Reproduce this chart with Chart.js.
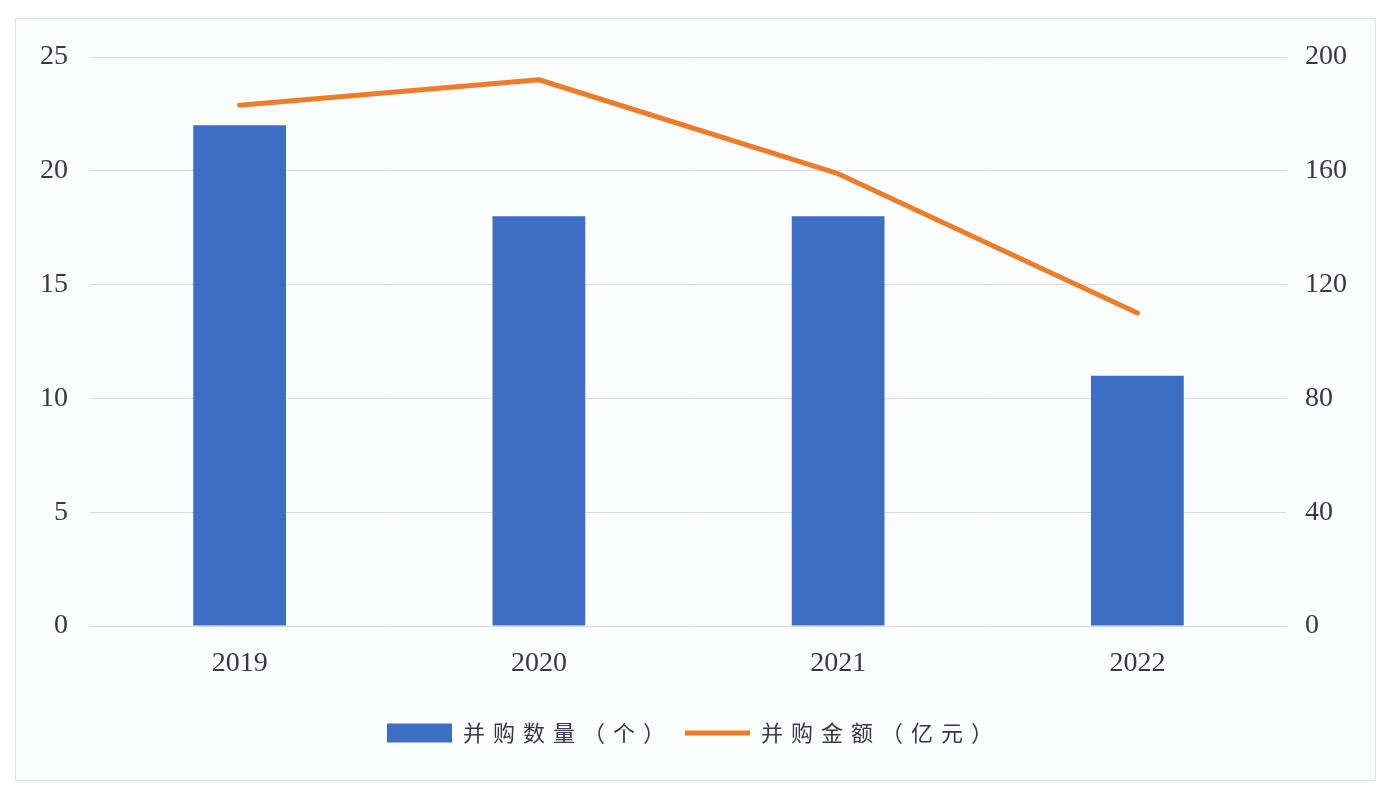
<!DOCTYPE html>
<html>
<head>
<meta charset="utf-8">
<script src="https://cdn.jsdelivr.net/npm/chart.js@4"></script>
<style>
html,body{margin:0;padding:0;background:#ffffff;}
#wrap{position:absolute;left:0;top:0;width:1388px;height:790px;}
#frame{position:absolute;left:15px;top:18px;width:1359px;height:761px;border:1px solid #dfe2e8;background:#fcfdff;}
canvas{position:absolute;left:0;top:0;}
</style>
</head>
<body>
<div id="wrap">
<div id="frame"></div>
<canvas id="c" width="1388" height="790"></canvas>
</div>
<script>
const categories = ['2019', '2020', '2021', '2022'];
const dealCount = [22, 18, 18, 11];
const dealAmount = [183, 192, 159, 110];
const countLabel = '并购数量（个）';
const amountLabel = '并购金额（亿元）';
const leftMax = 25, leftStep = 5;
const rightMax = 200, rightStep = 40;

const textColor = '#3c3550';
const numFont = { family: '"Liberation Serif", "Noto Sans CJK SC", serif', size: 28 };

const spacingPlugin = {
  id: 'spacing',
  afterInit(chart) {
    const lg = chart.legend;
    if (!lg) return;
    const wrap = (name) => {
      const orig = lg[name].bind(lg);
      lg[name] = function (...args) {
        const prev = chart.ctx.letterSpacing;
        chart.ctx.letterSpacing = '8px';
        const r = orig(...args);
        chart.ctx.letterSpacing = prev;
        return r;
      };
    };
    wrap('fit');
    wrap('draw');
  }
};

new Chart(document.getElementById('c'), {
  data: {
    labels: categories,
    datasets: [
      {
        type: 'bar',
        label: countLabel,
        data: dealCount,
        yAxisID: 'y',
        backgroundColor: '#3e6dc4',
        borderWidth: 0,
        barPercentage: 0.31,
        categoryPercentage: 1,
        pointStyle: 'rect'
      },
      {
        type: 'line',
        label: amountLabel,
        data: dealAmount,
        yAxisID: 'y1',
        borderColor: '#ee7d2a',
        backgroundColor: '#ee7d2a',
        borderWidth: 5,
        borderCapStyle: 'round',
        borderJoinStyle: 'round',
        pointRadius: 0,
        pointHoverRadius: 0,
        tension: 0,
        pointStyle: 'line'
      }
    ]
  },
  options: {
    responsive: false,
    animation: false,
    layout: { padding: { top: 57, left: 0, right: 0, bottom: 36 } },
    plugins: {
      tooltip: { enabled: false },
      legend: {
        position: 'bottom',
        labels: {
          usePointStyle: true,
          pointStyleWidth: 65,
          boxHeight: 19,
          padding: 12,
          color: textColor,
          font: { family: '"Noto Sans CJK SC", sans-serif', size: 22 }
        }
      }
    },
    scales: {
      x: {
        grid: { display: false, drawTicks: false },
        border: { display: false },
        ticks: { color: textColor, font: numFont, padding: 21 },
        afterFit(s) { s.height = 84; }
      },
      y: {
        position: 'left',
        min: 0, max: leftMax,
        ticks: { stepSize: leftStep, color: textColor, font: numFont, padding: 22 },
        grid: { color: '#d8dce8', lineWidth: 1, drawTicks: false },
        border: { display: false },
        afterFit(s) { s.width = 90; }
      },
      y1: {
        position: 'right',
        min: 0, max: rightMax,
        ticks: { stepSize: rightStep, color: textColor, font: numFont, padding: 18 },
        grid: { display: false, drawTicks: false },
        border: { display: false },
        afterFit(s) { s.width = 101; }
      }
    }
  },
  plugins: [spacingPlugin]
});
</script>
</body>
</html>
